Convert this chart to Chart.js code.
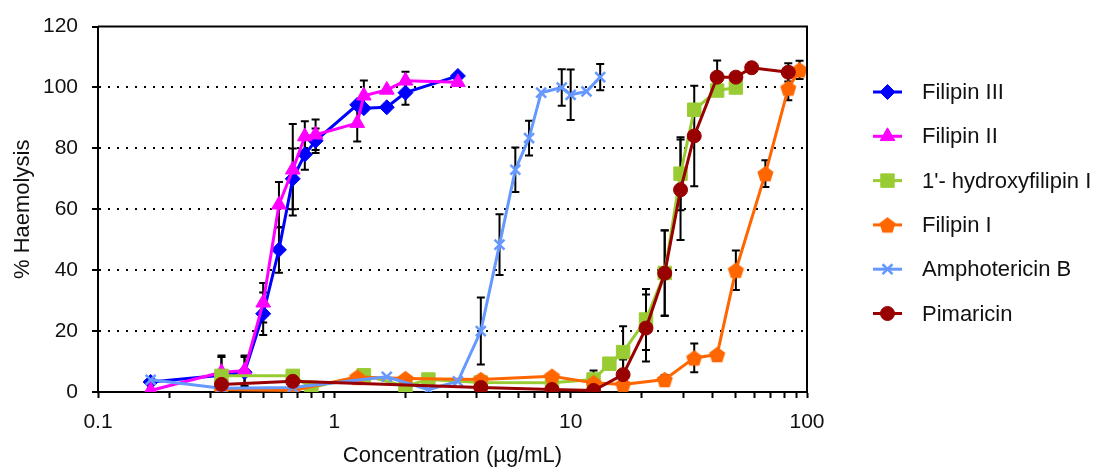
<!DOCTYPE html>
<html>
<head>
<meta charset="utf-8">
<script src="https://cdn.jsdelivr.net/npm/chart.js@4.4.1/dist/chart.umd.min.js"></script>
<style>
  html, body { margin: 0; padding: 0; background: #fff; }
  #wrap { width: 1093px; height: 467px; }
</style>
</head>
<body>
<div id="wrap"><canvas id="haemo" width="1093" height="467"></canvas></div>
<script>
// ---------------------------------------------------------------
// Data (concentration in ug/mL, % haemolysis, +/- error)
// ---------------------------------------------------------------
const seriesNames = ['Filipin III', 'Filipin II', "1'- hydroxyfilipin I", 'Filipin I', 'Amphotericin B', 'Pimaricin'];
const seriesColors = ['#0000ff', '#ff00ff', '#99cc33', '#ff6600', '#6699ff', '#990000'];

const fil3Conc = [0.167, 0.333, 0.417, 0.5, 0.583, 0.667, 0.75, 0.833, 1.25, 1.333, 1.667, 2.0, 3.333];
const fil3Haem = [3.3, 5.5, 6.5, 25.7, 46.7, 70, 78, 82.5, 94.3, 93.2, 93.5, 98.3, 103.8];
const fil3Err  = [0, 6, 5, 7, 7.5, 10, 5, 4, 0, 0, 0, 4, 0];

const fil2Conc = [0.167, 0.333, 0.417, 0.5, 0.583, 0.667, 0.75, 0.833, 1.25, 1.333, 1.667, 2.0, 3.333];
const fil2Haem = [0.5, 6.5, 7, 29.3, 61.5, 73, 83.9, 84.5, 88.3, 97.3, 99.2, 102.2, 101.7];
const fil2Err  = [0, 5.5, 5, 6.5, 7.5, 15, 5, 5, 6, 5, 0, 3, 0];

const hydroConc = [0.333, 0.667, 0.8, 1.333, 2.0, 2.5, 4.167, 8.333, 12.5, 14.583, 16.667, 20.833, 25, 29.167, 33.333, 41.667, 50];
const hydroHaem = [5.3, 5.3, 1.4, 5.5, 1.9, 4.1, 3.1, 3, 4.1, 9.3, 13.1, 23.8, 39.1, 71.7, 92.7, 99, 100];
const hydroErr  = [0, 0, 0, 0, 0, 0, 0, 0, 3, 0, 8.5, 10, 14, 12, 0, 0, 0];

const fil1Conc = [0.333, 0.667, 1.25, 2.0, 4.167, 8.333, 12.5, 16.667, 25, 33.333, 41.667, 50, 66.667, 83.333, 93];
const fil1Haem = [0.8, 0.5, 4.9, 4.4, 4.1, 5.2, 3, 2.5, 4.1, 11.2, 12.3, 40, 71.7, 99.8, 105.8];
const fil1Err  = [0, 0, 0, 0, 0, 0, 0, 0, 1.5, 4.7, 0, 6.5, 4.4, 4, 3];

const amphoConc = [0.167, 0.333, 0.667, 1.667, 2.5, 3.333, 4.167, 5, 5.833, 6.667, 7.5, 9.167, 10, 11.667, 13.333];
const amphoHaem = [4, 1.2, 1.5, 5, 0.8, 3.5, 20, 48.4, 73, 83.4, 98.3, 100, 97.6, 98.7, 103.4];
const amphoErr  = [0, 0, 0, 0, 0, 0, 11, 10, 7.3, 5.7, 0, 6, 8.3, 0, 4.3];

const pimaConc = [0.333, 0.667, 4.167, 8.333, 12.5, 16.667, 20.833, 25, 29.167, 33.333, 41.667, 50, 58.333, 83.333];
const pimaHaem = [2.5, 3.5, 1.5, 0.8, 0.5, 5.7, 21, 39, 66.4, 84.1, 103.4, 103.4, 106.5, 105];
const pimaErr  = [0, 0, 0, 0, 0, 5, 11, 14, 16.5, 16.5, 5.5, 0, 0, 3];

const yTickStep = 20;
const xLabelValues = [0.1, 1, 10, 100];

// minor ticks 1..9 in every decade, labels only on the decades
const xTickValues = [];
for (let e = -1; e < 2; e++) {
  for (let m = 1; m < 10; m++) xTickValues.push(Number((m * Math.pow(10, e)).toPrecision(3)));
}
xTickValues.push(100);

const FONT = 'Liberation Sans, Arial, Helvetica, sans-serif';

function pts(xs, ys) {
  return xs.map((x, i) => ({ x: x, y: ys[i] }));
}

// Chart.js has no pentagon, so make one
function makePentagon(color, r) {
  const s = Math.ceil(r * 2 + 2);
  const c = document.createElement('canvas');
  c.width = s; c.height = s;
  const g = c.getContext('2d');
  g.fillStyle = color;
  g.beginPath();
  for (let i = 0; i < 5; i++) {
    const a = -Math.PI / 2 + i * 2 * Math.PI / 5;
    const px = s / 2 + r * Math.cos(a);
    const py = s / 2 + r * Math.sin(a) + r * 0.1;
    if (i === 0) g.moveTo(px, py); else g.lineTo(px, py);
  }
  g.closePath();
  g.fill();
  return c;
}

const pentagon = makePentagon(seriesColors[3], 8.5);

function series(idx, xs, ys, errs, style, radius, extra) {
  return Object.assign({
    label: seriesNames[idx],
    data: pts(xs, ys),
    err: errs,
    borderColor: seriesColors[idx],
    backgroundColor: seriesColors[idx],
    borderWidth: 3,
    pointStyle: style,
    pointRadius: radius,
    pointBorderWidth: 1,
    pointBorderColor: seriesColors[idx],
    pointBackgroundColor: seriesColors[idx],
    tension: 0,
    order: 6 - idx
  }, extra || {});
}

const datasets = [
  series(0, fil3Conc, fil3Haem, fil3Err, 'rectRot', 7.5),
  series(1, fil2Conc, fil2Haem, fil2Err, 'triangle', 8.5),
  series(2, hydroConc, hydroHaem, hydroErr, 'rect', 9.5),
  series(3, fil1Conc, fil1Haem, fil1Err, pentagon, 8),
  series(4, amphoConc, amphoHaem, amphoErr, 'crossRot', 7, { pointBorderWidth: 2.5 }),
  series(5, pimaConc, pimaHaem, pimaErr, 'circle', 7)
];

// error bars, drawn under the series
const errorBars = {
  id: 'errorBars',
  beforeDatasetsDraw(chart) {
    const ctx = chart.ctx;
    const ys = chart.scales.y;
    ctx.save();
    ctx.strokeStyle = '#000';
    ctx.lineWidth = 2;
    chart.data.datasets.forEach((ds, i) => {
      const meta = chart.getDatasetMeta(i);
      ds.err.forEach((e, j) => {
        if (!e) return;
        const el = meta.data[j];
        const v = ds.data[j].y;
        const top = ys.getPixelForValue(v + e);
        const bot = ys.getPixelForValue(Math.max(0, v - e));
        ctx.beginPath();
        ctx.moveTo(el.x, top); ctx.lineTo(el.x, bot);
        ctx.moveTo(el.x - 4, top); ctx.lineTo(el.x + 4, top);
        ctx.moveTo(el.x - 4, bot); ctx.lineTo(el.x + 4, bot);
        ctx.stroke();
      });
    });
    ctx.restore();
  }
};

// top and right edge of the plot box
const frame = {
  id: 'frame',
  afterDraw(chart) {
    const { ctx, chartArea: a } = chart;
    ctx.save();
    ctx.strokeStyle = '#000';
    ctx.lineWidth = 2;
    ctx.beginPath();
    ctx.moveTo(a.left, a.top);
    ctx.lineTo(a.right, a.top);
    ctx.lineTo(a.right, a.bottom);
    ctx.stroke();
    ctx.restore();
  }
};

// legend on the right: line + marker, then name
const sideLegend = {
  id: 'sideLegend',
  afterDraw(chart) {
    const ctx = chart.ctx;
    const x0 = 873, x1 = 902, tx = 922, y0 = 92, dy = 44.3;
    ctx.save();
    chart.data.datasets.forEach((ds, i) => {
      const y = y0 + i * dy;
      ctx.strokeStyle = ds.borderColor;
      ctx.lineWidth = 3;
      ctx.beginPath();
      ctx.moveTo(x0, y); ctx.lineTo(x1, y);
      ctx.stroke();
      ctx.fillStyle = ds.pointBackgroundColor;
      ctx.strokeStyle = ds.pointBorderColor;
      ctx.lineWidth = ds.pointBorderWidth;
      Chart.helpers.drawPoint(ctx, {
        pointStyle: ds.pointStyle,
        radius: ds.pointRadius,
        rotation: 0,
        borderWidth: ds.pointBorderWidth
      }, (x0 + x1) / 2, y);
      ctx.fillStyle = '#111';
      ctx.font = '22px ' + FONT;
      ctx.textAlign = 'left';
      ctx.textBaseline = 'middle';
      ctx.fillText(ds.label, tx, y + 1);
    });
    ctx.restore();
  }
};

new Chart(document.getElementById('haemo'), {
  type: 'line',
  data: { datasets: datasets },
  options: {
    responsive: false,
    animation: false,
    devicePixelRatio: 1,
    layout: { padding: { left: 0, right: 286, top: 26, bottom: 0 } },
    plugins: {
      legend: { display: false },
      tooltip: { enabled: false }
    },
    scales: {
      x: {
        type: 'logarithmic',
        min: 0.1,
        max: 100,
        afterBuildTicks: s => { s.ticks = xTickValues.map(v => ({ value: v })); },
        afterFit: s => { s.height = 75; },
        ticks: {
          autoSkip: false,
          maxRotation: 0,
          color: '#111',
          font: { family: FONT, size: 21 },
          padding: 12,
          callback: v => xLabelValues.includes(v) ? String(v) : ''
        },
        grid: { drawOnChartArea: false, tickLength: 6, tickWidth: 2, tickColor: '#000', color: '#000' },
        border: { color: '#000', width: 2 },
        title: {
          display: true,
          text: 'Concentration (µg/mL)',
          color: '#111',
          font: { family: FONT, size: 22, lineHeight: 1.0 },
          padding: { top: 0, bottom: 0 }
        }
      },
      y: {
        min: 0,
        max: 120,
        afterFit: s => { s.width = 98; },
        ticks: {
          stepSize: yTickStep,
          color: '#111',
          font: { family: FONT, size: 21 },
          padding: 14
        },
        grid: {
          color: c => (c.tick && (c.tick.value === 0 || c.tick.value === 120)) ? 'rgba(0,0,0,0)' : '#000',
          lineWidth: 2,
          tickLength: 6,
          tickWidth: 2,
          tickColor: '#000'
        },
        border: { color: '#000', width: 2, dash: [2, 7] },
        title: {
          display: true,
          text: '% Haemolysis',
          color: '#111',
          font: { family: FONT, size: 22, lineHeight: 1.1 },
          padding: { top: 11, bottom: 0 }
        }
      }
    }
  },
  plugins: [errorBars, frame, sideLegend]
});
</script>
</body>
</html>
